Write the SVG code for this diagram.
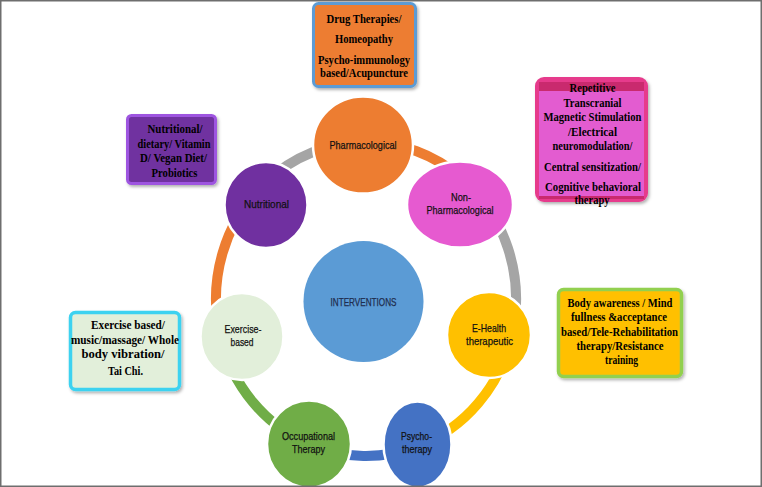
<svg xmlns="http://www.w3.org/2000/svg" width="762" height="487" viewBox="0 0 762 487">
<defs>
<filter id="sh" x="-10%" y="-10%" width="125%" height="125%">
<feDropShadow dx="1.5" dy="2" stdDeviation="1.5" flood-color="#000" flood-opacity="0.3"/>
</filter>
<style>
.bt{font-family:"Liberation Serif","Times New Roman",serif;font-weight:bold;font-size:12.5px;fill:#000;text-anchor:middle}
.ct{font-family:"Liberation Sans Narrow","Liberation Sans",Arial,sans-serif;font-size:11.5px;fill:#111;stroke:#111;stroke-width:0.25;text-anchor:middle}
.ring{fill:none;stroke-width:10}
.node{stroke:#fff;stroke-width:2.5}
</style>
</defs>
<rect x="0" y="0" width="762" height="487" fill="#fff"/>

<g id="connectors">
<path class="ring" stroke="#ED7D31" d="M366,142 A150,157 0 0 1 460.4,177"/>
<path class="ring" stroke="#A5A5A5" d="M460.4,177 A150,157 0 0 1 512.2,334.3"/>
<path class="ring" stroke="#FFC000" d="M512.2,334.3 A150,157 0 0 1 417.3,446.5"/>
<path class="ring" stroke="#4472C4" d="M417.3,446.5 A150,157 0 0 1 309.8,444.6"/>
<path class="ring" stroke="#70AD47" d="M309.8,444.6 A150,157 0 0 1 220.5,337"/>
<path class="ring" stroke="#ED7D31" d="M220.5,337 A150,157 0 0 1 265.6,182.3"/>
<path class="ring" stroke="#A5A5A5" d="M265.6,182.3 A150,157 0 0 1 366,142"/>
</g>

<g id="n-pharm">
<ellipse class="node" cx="363" cy="145" rx="50" ry="48.5" fill="#ED7D31"/>
<text class="ct" x="363" y="148.5" textLength="67" lengthAdjust="spacingAndGlyphs">Pharmacological</text>
</g>
<g id="n-nonpharm">
<ellipse class="node" cx="460" cy="204.5" rx="53" ry="43" fill="#E65AD0"/>
<text class="ct" x="461" y="201" textLength="20" lengthAdjust="spacingAndGlyphs">Non-</text>
<text class="ct" x="460" y="214" textLength="67" lengthAdjust="spacingAndGlyphs">Pharmacological</text>
</g>
<g id="n-nutritional">
<ellipse class="node" cx="266" cy="205" rx="41.5" ry="43" fill="#7030A0"/>
<text class="ct" x="266.5" y="208" textLength="45" lengthAdjust="spacingAndGlyphs">Nutritional</text>
</g>
<g id="n-interventions">
<ellipse cx="363.5" cy="301.5" rx="60" ry="60.5" fill="#5B9BD5"/>
<text class="ct" x="363.5" y="305.5" textLength="66" lengthAdjust="spacingAndGlyphs" style="fill:#1F2D4E;stroke:#1F2D4E">INTERVENTIONS</text>
</g>
<g id="n-exercise">
<ellipse class="node" cx="242" cy="336.5" rx="41.5" ry="43.5" fill="#E2EFDA"/>
<text class="ct" x="243" y="333" textLength="37" lengthAdjust="spacingAndGlyphs">Exercise-</text>
<text class="ct" x="242" y="346" textLength="23" lengthAdjust="spacingAndGlyphs">based</text>
</g>
<g id="n-ehealth">
<ellipse class="node" cx="489" cy="335" rx="42" ry="43" fill="#FFC000"/>
<text class="ct" x="489" y="331.5" textLength="34" lengthAdjust="spacingAndGlyphs">E-Health</text>
<text class="ct" x="489.5" y="344.5" textLength="47" lengthAdjust="spacingAndGlyphs">therapeutic</text>
</g>
<g id="n-occupational">
<ellipse class="node" cx="309" cy="444" rx="42" ry="43.5" fill="#70AD47"/>
<text class="ct" x="308.5" y="439.5" textLength="53" lengthAdjust="spacingAndGlyphs">Occupational</text>
<text class="ct" x="308.5" y="452.5" textLength="33" lengthAdjust="spacingAndGlyphs">Therapy</text>
</g>
<g id="n-psycho">
<ellipse class="node" cx="417.5" cy="444.5" rx="34" ry="43" fill="#4472C4"/>
<text class="ct" x="416.5" y="439.5" textLength="31" lengthAdjust="spacingAndGlyphs">Psycho-</text>
<text class="ct" x="417" y="452.5" textLength="30" lengthAdjust="spacingAndGlyphs">therapy</text>
</g>

<g id="b-pharm">
<rect x="313.5" y="3.5" width="102" height="83" rx="5" fill="#ED7D31" stroke="#5B9BD5" stroke-width="3" filter="url(#sh)"/>
<text class="bt" x="364" y="23" textLength="75" lengthAdjust="spacingAndGlyphs">Drug Therapies/</text>
<text class="bt" x="364" y="43" textLength="58" lengthAdjust="spacingAndGlyphs">Homeopathy</text>
<text class="bt" x="364" y="64" textLength="92" lengthAdjust="spacingAndGlyphs">Psycho-immunology</text>
<text class="bt" x="364" y="77" textLength="88" lengthAdjust="spacingAndGlyphs">based/Acupuncture</text>
</g>

<g id="b-nonpharm">
<rect x="535" y="77" width="113" height="125" rx="9" fill="#E63B8C" filter="url(#sh)"/>
<rect x="539" y="82" width="105" height="9" fill="#C92A6E"/>
<rect x="539" y="91" width="105" height="105" fill="#E35CD0"/>
<rect x="539" y="196" width="105" height="3" fill="#C92A6E"/>
<text class="bt" x="592.5" y="92" textLength="46" lengthAdjust="spacingAndGlyphs">Repetitive</text>
<text class="bt" x="592.5" y="106.5" textLength="58" lengthAdjust="spacingAndGlyphs">Transcranial</text>
<text class="bt" x="592.5" y="121" textLength="98" lengthAdjust="spacingAndGlyphs">Magnetic Stimulation</text>
<text class="bt" x="592.5" y="135.5" textLength="49" lengthAdjust="spacingAndGlyphs">/Electrical</text>
<text class="bt" x="592.5" y="150" textLength="80" lengthAdjust="spacingAndGlyphs">neuromodulation/</text>
<text class="bt" x="592.5" y="171" textLength="97" lengthAdjust="spacingAndGlyphs">Central sensitization/</text>
<text class="bt" x="593" y="190.5" textLength="96" lengthAdjust="spacingAndGlyphs">Cognitive behavioral</text>
<text class="bt" x="592" y="204" textLength="35" lengthAdjust="spacingAndGlyphs" style="font-size:12px">therapy</text>
</g>

<g id="b-nutritional">
<rect x="127.5" y="115.5" width="88" height="68" rx="4" fill="#7030A0" stroke="#9E55E0" stroke-width="3" filter="url(#sh)"/>
<text class="bt" x="175" y="133" textLength="55" lengthAdjust="spacingAndGlyphs">Nutritional/</text>
<text class="bt" x="174" y="147.5" textLength="73" lengthAdjust="spacingAndGlyphs">dietary/ Vitamin</text>
<text class="bt" x="173.5" y="162" textLength="67" lengthAdjust="spacingAndGlyphs">D/ Vegan Diet/</text>
<text class="bt" x="174.5" y="176.5" textLength="46" lengthAdjust="spacingAndGlyphs">Probiotics</text>
</g>

<g id="b-ehealth">
<rect x="558.5" y="289.5" width="123" height="87" rx="5" fill="#FFC000" stroke="#92D050" stroke-width="3.5" filter="url(#sh)"/>
<text class="bt" x="620" y="306.5" textLength="105" lengthAdjust="spacingAndGlyphs">Body awareness / Mind</text>
<text class="bt" x="619" y="321" textLength="96" lengthAdjust="spacingAndGlyphs">fullness &amp;acceptance</text>
<text class="bt" x="619.5" y="335.5" textLength="117" lengthAdjust="spacingAndGlyphs">based/Tele-Rehabilitation</text>
<text class="bt" x="620" y="349.5" textLength="87" lengthAdjust="spacingAndGlyphs">therapy/Resistance</text>
<text class="bt" x="621.5" y="363.5" textLength="33" lengthAdjust="spacingAndGlyphs">training</text>
</g>

<g id="b-exercise">
<rect x="70.5" y="312.5" width="109" height="77" rx="5" fill="#E2EFDA" stroke="#3CD2F0" stroke-width="3.5" filter="url(#sh)"/>
<text class="bt" x="128" y="329" textLength="74" lengthAdjust="spacingAndGlyphs">Exercise based/</text>
<text class="bt" x="125" y="343.5" textLength="108" lengthAdjust="spacingAndGlyphs">music/massage/ Whole</text>
<text class="bt" x="123" y="357.5" textLength="83" lengthAdjust="spacingAndGlyphs">body vibration/</text>
<text class="bt" x="125.5" y="375" textLength="35" lengthAdjust="spacingAndGlyphs">Tai Chi.</text>
</g>

<rect x="0.75" y="0.75" width="760.5" height="485.5" fill="none" stroke="#6E6E6E" stroke-width="1.5"/>
</svg>
